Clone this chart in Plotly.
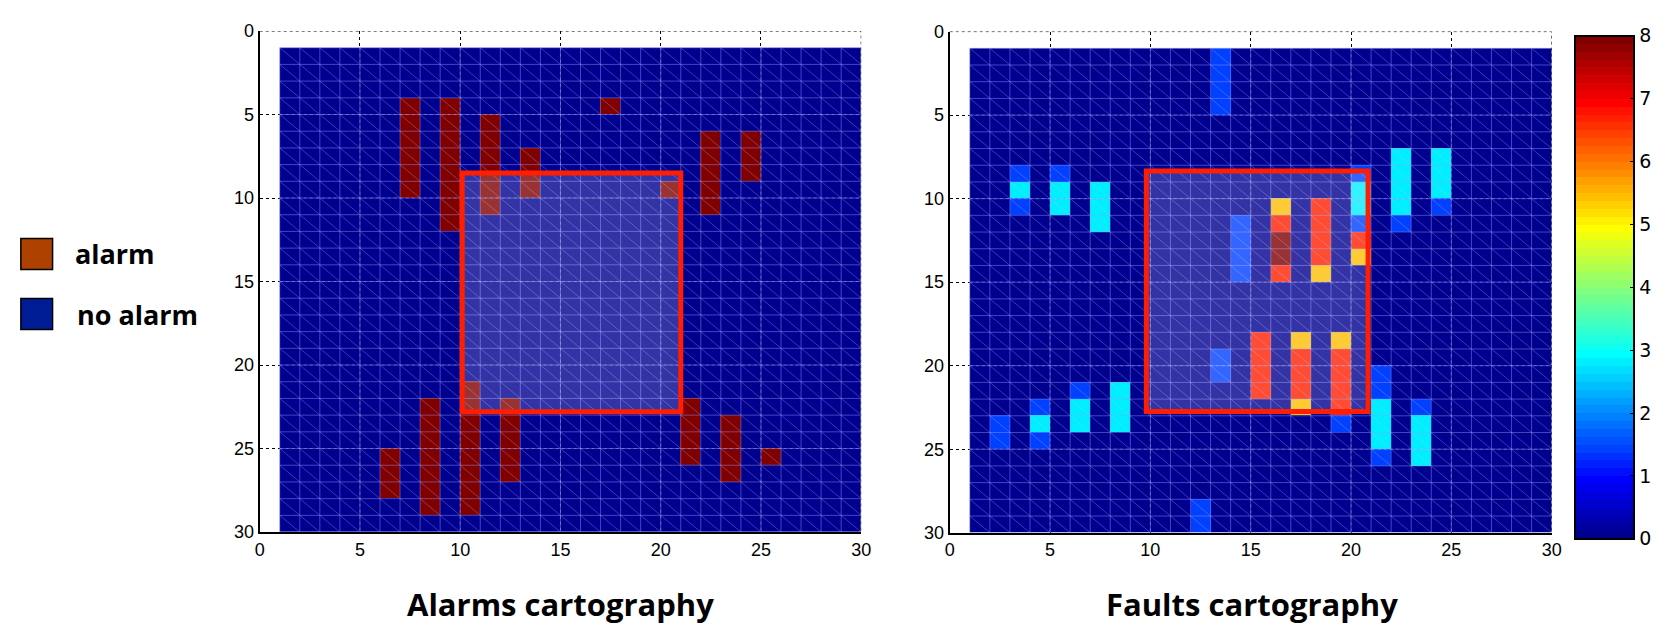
import numpy as np
import plotly.graph_objects as go

W, H = 1668, 625

# ---------------- data ----------------
N_CELLS = 29  # cells span 1..30 on each axis
TICKS = [0, 5, 10, 15, 20, 25, 30]
CBAR_TICKS = [0, 1, 2, 3, 4, 5, 6, 7, 8]

# Alarms: column start x, row start y, row end y (value 1)
ALARM_COLS = [7, 9, 11, 13, 17, 20, 22, 24, 6, 8, 10, 12, 21, 23, 25]
ALARM_Y0 = [4, 4, 5, 7, 4, 9, 6, 6, 25, 22, 21, 22, 22, 23, 25]
ALARM_Y1 = [10, 12, 11, 10, 5, 10, 11, 9, 28, 29, 29, 27, 26, 27, 26]

# Faults: column, row start, row end, value
FAULT_COLS = [13, 3, 3, 3, 5, 5, 7, 20, 20, 20, 20, 20, 22, 22, 24, 24,
              14, 16, 16, 16, 16, 18, 18, 13, 15, 17, 17, 17, 19, 19, 19,
              21, 21, 21, 23, 23, 2, 4, 4, 4, 6, 6, 8, 12]
FAULT_Y0 = [1, 8, 9, 10, 8, 9, 9, 8, 9, 11, 12, 13, 7, 11, 7, 10,
            11, 10, 11, 12, 14, 10, 14, 19, 18, 18, 19, 22, 18, 19, 23,
            20, 22, 25, 22, 23, 23, 22, 23, 24, 21, 22, 21, 28]
FAULT_Y1 = [5, 9, 10, 11, 9, 11, 12, 9, 11, 12, 13, 14, 11, 12, 10, 11,
            15, 11, 12, 14, 15, 14, 15, 21, 22, 19, 22, 23, 19, 23, 24,
            22, 25, 26, 23, 26, 25, 23, 24, 25, 22, 24, 24, 30]
FAULT_VAL = [1.45, 1.45, 2.75, 1.45, 1.45, 2.75, 2.75, 1.45, 2.75, 1.45, 6.7, 5.4, 2.75, 1.45, 2.75, 1.45,
             1.45, 5.4, 6.7, 8.0, 6.7, 6.7, 5.4, 1.45, 6.7, 5.4, 6.7, 5.4, 5.4, 6.7, 1.45,
             1.45, 2.75, 1.45, 1.45, 2.75, 1.45, 1.45, 2.75, 1.45, 1.45, 2.75, 2.75, 1.45]

# highlighted zones (x0, x1, y0, y1)
ZONE_LEFT = (10.1, 21.0, 8.5, 22.8)
ZONE_RIGHT = (9.8, 20.85, 8.35, 22.75)

LEGEND_LABELS = ["alarm", "no alarm"]
TITLES = ["Alarms cartography", "Faults cartography"]

# ---------------- helpers ----------------
def build(cols, y0s, y1s, vals=None):
    z = np.zeros((N_CELLS, N_CELLS))
    for i, c in enumerate(cols):
        v = 1.0 if vals is None else vals[i]
        for r in range(y0s[i], y1s[i]):
            z[r - 1, c - 1] = v
    return z

def jet64():
    cs = []
    for i in range(64):
        x = (i + 1) / 64
        r = min(1, max(0, 1.5 - abs(4 * x - 3)))
        g = min(1, max(0, 1.5 - abs(4 * x - 2)))
        b = min(1, max(0, 1.5 - abs(4 * x - 1)))
        col = f"rgb({round(r*255)},{round(g*255)},{round(b*255)})"
        cs.append([i / 64, col])
        cs.append([(i + 1) / 64, col])
    return cs

JET = jet64()
centers = [1.5 + i for i in range(N_CELLS)]

z_alarm = build(ALARM_COLS, ALARM_Y0, ALARM_Y1)
z_fault = build(FAULT_COLS, FAULT_Y0, FAULT_Y1, FAULT_VAL)

fig = go.Figure()

# axes geometry (pixels)
AX = {
    1: dict(x0=257, x1=864, y0=21.7, y1=539.3),
    2: dict(x0=953.3, x1=1560.7, y0=22.3, y1=540),
}

def mesh_traces(xa, ya):
    gx, gy = [], []
    for k in range(1, 31):
        gx += [k, k, None]; gy += [1, 30, None]
        gx += [1, 30, None]; gy += [k, k, None]
    dx, dy = [], []
    for k in range(-28, 29):
        xs = max(1, 1 + k); xe = min(30, 30 + k)
        dx += [xs, xe, None]; dy += [xs - k, xe - k, None]
    fx, fy = [], []
    for k in [5, 10, 15, 20, 25]:
        fx += [k, k, None]; fy += [1, 30, None]
        fx += [1, 30, None]; fy += [k, k, None]
    # dotted frame (top and right borders)
    bx = [0, 30, 30]; by = [0, 0, 30]
    return [
        go.Scatter(x=dx, y=dy, mode="lines", line=dict(color="rgba(190,190,255,0.3)", width=1),
                   hoverinfo="skip", showlegend=False, xaxis=xa, yaxis=ya),
        go.Scatter(x=gx, y=gy, mode="lines", line=dict(color="rgba(150,150,255,0.45)", width=1),
                   hoverinfo="skip", showlegend=False, xaxis=xa, yaxis=ya),
        go.Scatter(x=fx, y=fy, mode="lines", line=dict(color="rgba(200,200,255,0.35)", width=1, dash="dot"),
                   hoverinfo="skip", showlegend=False, xaxis=xa, yaxis=ya),
        go.Scatter(x=bx, y=by, mode="lines", line=dict(color="black", width=1, dash="dot"),
                   hoverinfo="skip", showlegend=False, xaxis=xa, yaxis=ya, cliponaxis=False),
    ]

fig.add_trace(go.Heatmap(z=z_alarm, x=centers, y=centers, colorscale=JET, zmin=0, zmax=1,
                         showscale=False, xaxis="x", yaxis="y", hoverinfo="skip"))
for t in mesh_traces("x", "y"):
    fig.add_trace(t)

fig.add_trace(go.Heatmap(
    z=z_fault, x=centers, y=centers, colorscale=JET, zmin=0, zmax=8,
    xaxis="x2", yaxis="y2", hoverinfo="skip",
    colorbar=dict(
        x=1584 / W, xanchor="left", xpad=0, ypad=0,
        y=1 - (34 + 539) / 2 / H, yanchor="middle",
        lenmode="pixels", len=503, thicknessmode="pixels", thickness=59,
        outlinewidth=2, outlinecolor="black",
        tickvals=CBAR_TICKS, ticktext=[str(v) for v in CBAR_TICKS],
        ticks="inside", ticklen=5, tickcolor="black",
        tickfont=dict(family="DejaVu Sans", size=19, color="black"),
    ),
))
for t in mesh_traces("x2", "y2"):
    fig.add_trace(t)

tickfont = dict(family="Liberation Sans Narrow, Liberation Sans", size=18, color="black")

def axis_common(domain, rng):
    return dict(domain=domain, range=rng, tickvals=TICKS, ticktext=[str(t) for t in TICKS],
                showgrid=True, gridcolor="black", griddash="dot", gridwidth=1,
                zeroline=False, showline=True, linecolor="black", linewidth=2,
                ticks="", tickfont=tickfont, fixedrange=True)

layout = dict(width=W, height=H, margin=dict(l=0, r=0, t=0, b=0), autosize=False,
              paper_bgcolor="white", plot_bgcolor="white", showlegend=False)
for i, (xn, yn) in enumerate([("xaxis", "yaxis"), ("xaxis2", "yaxis2")], start=1):
    g = AX[i]
    xd = [g["x0"] / W, g["x1"] / W]
    yd = [1 - g["y1"] / H, 1 - g["y0"] / H]
    xa = axis_common(xd, [0, 30])
    ya = axis_common(yd, [30, 0])
    if i == 2:
        xa["anchor"] = "y2"; ya["anchor"] = "x2"
    layout[xn] = xa
    layout[yn] = ya
fig.update_layout(**layout)

shapes = []
for (x0, x1, y0, y1), xr, yr in [(ZONE_LEFT, "x", "y"), (ZONE_RIGHT, "x2", "y2")]:
    shapes.append(dict(type="rect", xref=xr, yref=yr, x0=x0, x1=x1, y0=y0, y1=y1,
                       line=dict(color="rgb(255,30,0)", width=5),
                       fillcolor="rgba(255,255,255,0.2)", layer="above"))
# left-side colorbar ticks
for v in CBAR_TICKS[1:-1]:
    yp = 539 - v * (505 / 8)
    shapes.append(dict(type="line", xref="paper", yref="paper",
                       x0=1585 / W, x1=1590 / W, y0=1 - yp / H, y1=1 - yp / H,
                       line=dict(color="black", width=1)))
# legend squares
for (y0p, col) in [(236, "rgb(175,65,0)"), (298, "rgb(0,28,148)")]:
    shapes.append(dict(type="rect", xref="paper", yref="paper",
                       x0=16 / W, x1=48 / W, y0=1 - (y0p + 32) / H, y1=1 - y0p / H,
                       line=dict(color="black", width=1.5), fillcolor=col))
fig.update_layout(shapes=shapes)

ann = []
for lab, xp, yc in [(LEGEND_LABELS[0], 69, 252), (LEGEND_LABELS[1], 71, 315)]:
    ann.append(dict(text=f"<b>{lab}</b>", xref="paper", yref="paper", x=xp / W, y=1 - yc / H,
                    xanchor="left", yanchor="middle", showarrow=False,
                    font=dict(family="Open Sans", size=27, color="black")))
for lab, xc in [(TITLES[0], 561), (TITLES[1], 1258)]:
    ann.append(dict(text=f"<b>{lab}</b>", xref="paper", yref="paper", x=xc / W, y=1 - 614 / H,
                    xanchor="center", yanchor="middle", showarrow=False,
                    font=dict(family="Open Sans", size=31, color="black")))
fig.update_layout(annotations=ann)

fig.write_html("out.html")
